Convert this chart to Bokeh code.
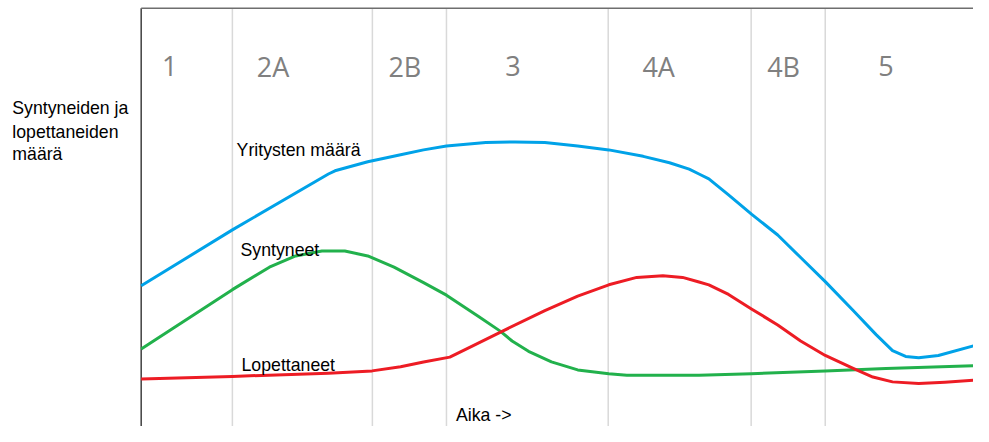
from bokeh.plotting import figure
from bokeh.models import Range1d, ColumnDataSource
from bokeh.core.properties import value
from bokeh.embed import file_html
from bokeh.resources import INLINE

# ---- data (time units, value units) ----
blue_t = [0, 92.7, 190.3, 197, 230.3, 263.7, 287, 310.3, 350.3, 380, 410.3, 443.7, 475.3, 510.3, 537, 557, 567, 577,
          597, 620.3, 647, 670.3, 695.3, 723.7, 747, 763.7, 777, 790.3, 810.3, 846]
blue_v = [146, 204, 262, 265.3, 274.7, 282, 287, 291, 294.7, 295.3, 294.7, 291, 287, 280.3, 273.7, 267, 262, 257,
          240.3, 220.3, 198.7, 175.3, 150.3, 120.3, 95.3, 78.7, 72.7, 71.3, 73.7, 83.7]

green_t = [0, 92.7, 130.3, 157, 183.7, 207, 230.3, 257, 287, 310.3, 343.7, 365.3, 377, 393.7, 417, 443.7, 475.3,
           493.7, 567, 620.3, 695.3, 757, 846]
green_v = [80.3, 142, 165.3, 177, 182, 182, 177, 165.3, 149.3, 136.3, 113.7, 98.7, 88.7, 78, 67, 58.7, 54.7,
           53.3, 53.3, 54.7, 57.7, 60.3, 63]

red_t = [0, 92.7, 190.3, 234.7, 263.7, 287, 313.7, 330.3, 365.3, 410.3, 443.7, 475.3, 503.7, 530.3, 550.3, 567,
         577, 597, 620.3, 647, 670.3, 695.3, 723.7, 743.7, 763.7, 790.3, 817, 846]
red_v = [49.3, 52, 55.3, 57.7, 62, 67, 72, 80.3, 98, 120.3, 135.3, 147, 154.7, 156.3, 154.7, 150, 147, 137, 122,
         105.3, 88.7, 73.7, 60.3, 51.3, 46.3, 44.7, 46, 48]

phase_bounds = [92.7, 235, 310.3, 474.7, 620, 695.3]
phase_names = ["1", "2A", "2B", "3", "4A", "4B", "5"]
phase_label_x = [29, 134, 268, 378, 526, 653, 757]
phase_label_y = 374

curve_names = ["Yritysten määrä", "Syntyneet", "Lopettaneet"]
curve_label_x = [97, 101, 102]
curve_label_y = [287, 183, 64]

y_title_lines = ["Syntyneiden ja", "lopettaneiden", "määrä"]
y_title_x = -131
y_title_y = [330, 306, 283]
x_title = ["Aika ->"]
x_title_x = [320]
x_title_y = [12]

T_MIN, T_MAX = -143, 846
V_MIN, V_MAX, V_TOP = 0, 442, 434

p = figure(width=973, height=426, output_backend="svg", toolbar_location=None,
           x_range=Range1d(T_MIN, T_MAX), y_range=Range1d(V_MIN, V_MAX),
           min_border_left=0, min_border_right=0, min_border_top=0, min_border_bottom=0)
p.axis.visible = False
p.grid.visible = False
p.outline_line_color = None
p.background_fill_color = "white"
p.border_fill_color = "white"

# phase separators
p.segment(x0=phase_bounds, y0=[V_MIN] * len(phase_bounds), x1=phase_bounds, y1=[V_TOP] * len(phase_bounds),
          line_color="#d9d9d9", line_width=1.5)
# left axis and top border
p.segment(x0=[0], y0=[V_MIN], x1=[0], y1=[V_TOP], line_color="#404040", line_width=1.5)
p.segment(x0=[0], y0=[V_TOP], x1=[T_MAX], y1=[V_TOP], line_color="#6e6e6e", line_width=1.5)

p.line(blue_t, blue_v, line_color="#00a2e8", line_width=3, line_join="round")
p.line(green_t, green_v, line_color="#22b14c", line_width=3, line_join="round")
p.line(red_t, red_v, line_color="#ed1c24", line_width=3, line_join="round")

ph = ColumnDataSource(dict(x=phase_label_x, y=[phase_label_y] * len(phase_names), t=phase_names))
p.text(x="x", y="y", text="t", source=ph, text_font=value("Open Sans"), text_font_size="27px",
       text_color="#808080", text_align="center", text_baseline="alphabetic")

cl = ColumnDataSource(dict(x=curve_label_x + x_title_x + [y_title_x] * 3,
                           y=curve_label_y + x_title_y + y_title_y,
                           t=curve_names + x_title + y_title_lines))
p.text(x="x", y="y", text="t", source=cl, text_font=value("Liberation Sans"), text_font_size="17.7px",
       text_color="black", text_align="left", text_baseline="alphabetic")

open("out.html", "w").write(file_html(p, INLINE))
